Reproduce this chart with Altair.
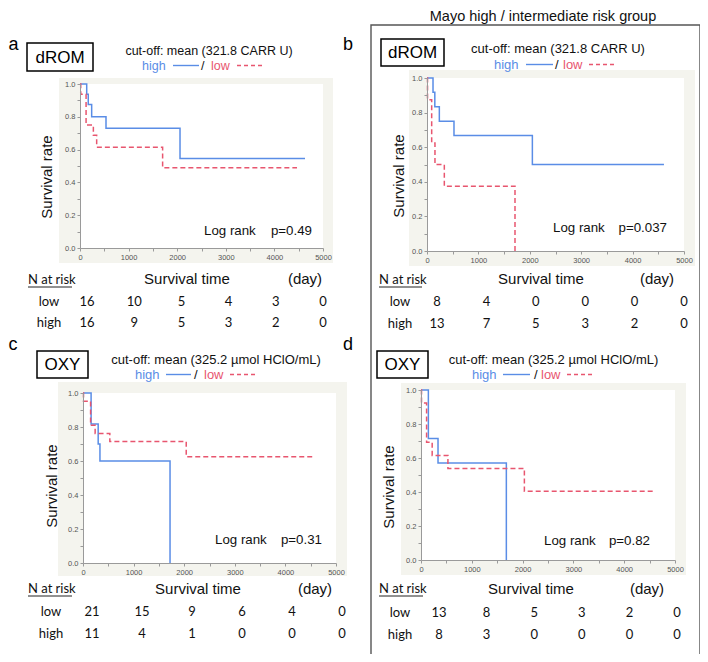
import altair as alt
import pandas as pd

# ------------------------------------------------------------------ data
GROUPS = ["high", "low"]
ROWS = ["low", "high"]
RISK_TIMES = [0, 1000, 2000, 3000, 4000, 5000]

# panel a (dROM, all)
a_high_t = [0, 138, 170, 240, 535, 2058, 4630]
a_high_s = [1.0, 0.9375, 0.875, 0.80, 0.73, 0.545, 0.545]
a_low_t = [0, 15, 125, 275, 343, 1700, 4465]
a_low_s = [1.0, 0.9375, 0.75, 0.6875, 0.615, 0.49, 0.49]
a_risk_low = [16, 10, 5, 4, 3, 0]
a_risk_high = [16, 9, 5, 3, 2, 0]

# panel b (dROM, Mayo high/intermediate)
b_high_t = [0, 117, 152, 240, 525, 2050, 4610]
b_high_s = [1.0, 0.917, 0.834, 0.75, 0.667, 0.5, 0.5]
b_low_t = [0, 10, 91, 155, 337, 1712]
b_low_s = [1.0, 0.875, 0.625, 0.5, 0.375, 0.0]
b_risk_low = [8, 4, 0, 0, 0, 0]
b_risk_high = [13, 7, 5, 3, 2, 0]

# panel c (OXY, all)
c_high_t = [0, 160, 300, 335, 1720]
c_high_s = [1.0, 0.818, 0.70, 0.60, 0.0]
c_low_t = [0, 10, 150, 240, 530, 2040, 4530]
c_low_s = [1.0, 0.952, 0.81, 0.762, 0.714, 0.625, 0.625]
c_risk_low = [21, 15, 9, 6, 4, 0]
c_risk_high = [11, 4, 1, 0, 0, 0]

# panel d (OXY, Mayo high/intermediate)
d_high_t = [0, 145, 335, 1680]
d_high_s = [1.0, 0.714, 0.571, 0.0]
d_low_t = [0, 10, 110, 220, 530, 2035, 4590]
d_low_s = [1.0, 0.923, 0.692, 0.615, 0.538, 0.404, 0.404]
d_risk_low = [13, 8, 5, 3, 2, 0]
d_risk_high = [8, 3, 0, 0, 0, 0]

letters = ["a", "b", "c", "d"]
markers = ["dROM", "dROM", "OXY", "OXY"]
cutoffs = ["cut-off: mean (321.8 CARR U)", "cut-off: mean (321.8 CARR U)",
           "cut-off: mean (325.2 \u00b5mol HClO/mL)", "cut-off: mean (325.2 \u00b5mol HClO/mL)"]
pvalues = ["p=0.49", "p=0.037", "p=0.31", "p=0.82"]
group_title = "Mayo high / intermediate risk group"

# ------------------------------------------------------------------ style / layout
W, H = 692, 646
O = 8  # page margin
SANS = "Liberation Sans"
TFONT = "Lato"
BLUE = "#5a8de6"
RED = "#e8566f"
BEIGE = "#f4f4ee"
AXC = "#9a9a9a"
LABC = "#555555"

LAYOUT = [
    dict(letter=(8.5, 50), box=(27, 43, 93, 71), cut=(209, 51, 12.5),
         leg=dict(y=65.5, high=142, line=(173, 199), slash=201, low=211, dash=(237, 265)),
         beige=(59, 78, 333, 263), x=(80, 323), y=(248, 84), srate=(47, 177),
         logrank=(204, 312, 231), stime=(187, 278.5), day=(305, 278.5),
         nrisk=(28, 72, 280, 287), lab=49, cols=(87, 323), rows=(302, 323)),
    dict(letter=(343, 50), box=(381, 39, 444, 66), cut=(558, 49, 13),
         leg=dict(y=64.5, high=494, line=(526, 553), slash=555, low=563, dash=(589, 617)),
         beige=(409, 70, 695, 266), x=(427, 684), y=(251, 78), srate=(399, 176),
         logrank=(553, 667, 228), stime=(541, 278.5), day=(657, 278.5),
         nrisk=(379, 422, 280, 287), lab=400, cols=(437, 684), rows=(302, 324)),
    dict(letter=(8.5, 350), box=(37, 351, 88, 378), cut=(216, 360, 13),
         leg=dict(y=374.5, high=135, line=(166, 191), slash=194, low=204, dash=(230, 258)),
         beige=(58, 382, 347, 576), x=(83, 336), y=(563, 393), srate=(52, 486),
         logrank=(215, 322, 540), stime=(198, 588.5), day=(315, 588.5),
         nrisk=(28, 72, 589, 596), lab=51, cols=(92, 342), rows=(612, 634)),
    dict(letter=(343, 350), box=(377, 351, 428, 378), cut=(553.5, 360, 13),
         leg=dict(y=374.5, high=472, line=(503, 530), slash=534, low=541, dash=(567, 594)),
         beige=(401, 383, 686, 575), x=(421, 675), y=(560, 390), srate=(389, 487),
         logrank=(544, 650, 541), stime=(531, 588.5), day=(647, 588.5),
         nrisk=(379, 423, 589, 596), lab=400, cols=(439, 677), rows=(613, 635)),
]

KM = [
    (a_high_t, a_high_s, a_low_t, a_low_s, a_risk_low, a_risk_high),
    (b_high_t, b_high_s, b_low_t, b_low_s, b_risk_low, b_risk_high),
    (c_high_t, c_high_s, c_low_t, c_low_s, c_risk_low, c_risk_high),
    (d_high_t, d_high_s, d_low_t, d_low_s, d_risk_low, d_risk_high),
]

ONE = pd.DataFrame({"k": [1]})


def txt(s, x, y, size, color="#111111", align="center", baseline="middle",
        font=SANS, angle=0):
    return alt.Chart(ONE).mark_text(
        text=s, fontSize=size, color=color, align=align, baseline=baseline,
        font=font, angle=angle
    ).encode(x=alt.value(x - O), y=alt.value(y - O))


def rect(x1, y1, x2, y2, fill, stroke=None, sw=0, fill_opacity=1):
    kw = dict(fill=fill, fillOpacity=fill_opacity)
    if stroke:
        kw.update(stroke=stroke, strokeWidth=sw)
    else:
        kw.update(strokeWidth=0)
    return alt.Chart(ONE).mark_rect(**kw).encode(
        x=alt.value(x1 - O), x2=alt.value(x2 - O),
        y=alt.value(y1 - O), y2=alt.value(y2 - O))


def rule(x1, x2, y, color, sw=1.5, dash=None):
    kw = dict(color=color, strokeWidth=sw)
    if dash:
        kw["strokeDash"] = dash
    return alt.Chart(ONE).mark_rule(**kw).encode(
        x=alt.value(x1 - O), x2=alt.value(x2 - O), y=alt.value(y - O))


back_layers = []
front_layers = []

# group title and outer box
front_layers.append(txt(group_title, 543, 21, 14.5, baseline="alphabetic"))
front_layers.append(rect(371, 25, 700, 659, "#ffffff", stroke="#555555", sw=1.4,
                         fill_opacity=0))

for i, L in enumerate(LAYOUT):
    ht, hs, lt, ls, rlow, rhigh = KM[i]
    # backgrounds
    bx1, by1, bx2, by2 = L["beige"]
    back_layers.append(rect(bx1, by1, bx2, by2, BEIGE))
    back_layers.append(rect(L["x"][0], L["y"][1], L["x"][1], L["y"][0], "#ffffff"))

    # letter
    front_layers.append(txt(letters[i], L["letter"][0], L["letter"][1], 18,
                            color="#000000", align="left", baseline="alphabetic"))
    # marker box
    x1, y1, x2, y2 = L["box"]
    front_layers.append(rect(x1, y1, x2, y2, "#ffffff", stroke="#000000", sw=1.5))
    front_layers.append(txt(markers[i], (x1 + x2) / 2, (y1 + y2) / 2 + 0.5, 17,
                            color="#000000"))
    # cut-off
    cx, cy, cs = L["cut"]
    front_layers.append(txt(cutoffs[i], cx, cy, cs))
    # legend line
    lg = L["leg"]
    front_layers.append(txt("high", lg["high"], lg["y"], cs, color=BLUE, align="left"))
    front_layers.append(rule(lg["line"][0], lg["line"][1], lg["y"], BLUE, 1.4))
    front_layers.append(txt("/", lg["slash"], lg["y"], cs, align="left"))
    front_layers.append(txt("low", lg["low"], lg["y"], cs, color=RED, align="left"))
    front_layers.append(rule(lg["dash"][0], lg["dash"][1], lg["y"], RED, 1.4, [4, 3]))
    # y title
    front_layers.append(txt("Survival rate", L["srate"][0], L["srate"][1], 15,
                            angle=270))
    # log rank
    lx1, lx2, ly = L["logrank"]
    front_layers.append(txt("Log rank", lx1, ly, 13.3, align="left"))
    front_layers.append(txt(pvalues[i], lx2, ly, 13.3, align="right"))
    # x title
    front_layers.append(txt("Survival time", L["stime"][0], L["stime"][1], 15))
    front_layers.append(txt("(day)", L["day"][0], L["day"][1], 15))
    # N at risk
    nx1, nx2, ny, nu = L["nrisk"]
    front_layers.append(txt("N at risk", nx1, ny, 13, align="left", font=TFONT))
    front_layers.append(rule(nx1, nx2, nu, "#222222", 1))

    # KM curves
    df = pd.DataFrame({
        "t": ht + lt,
        "s": hs + ls,
        "g": ["high"] * len(ht) + ["low"] * len(lt),
    })
    y0, y1p = L["y"]
    xa = alt.Axis(
        orient="bottom", offset=(y0 - O) - H, values=list(range(0, 5001, 500)),
        labelExpr="datum.value % 1000 == 0 ? format(datum.value, 'd') : ''",
        title=None, grid=False, domainColor=AXC, tickColor=AXC, tickSize=3,
        labelFontSize=7.5, labelColor=LABC, labelFont=SANS, labelPadding=2,
        labelFlush=False, labelOverlap=False, zindex=1)
    ya = alt.Axis(
        orient="left", offset=-(L["x"][0] - O),
        values=[round(v / 10, 1) for v in range(11)],
        labelExpr="round(datum.value * 10) % 2 == 0 ? format(datum.value, '.1f') : ''",
        title=None, grid=False, domainColor=AXC, tickColor=AXC, tickSize=3,
        labelFontSize=7.5, labelColor=LABC, labelFont=SANS, labelPadding=2,
        labelFlush=False, labelOverlap=False, zindex=1)
    km = alt.Chart(df).mark_line(interpolate="step-after", strokeWidth=1.5).encode(
        x=alt.X("t:Q", scale=alt.Scale(domain=[0, 5000], range=[L["x"][0] - O, L["x"][1] - O],
                                        nice=False, zero=False), axis=xa),
        y=alt.Y("s:Q", scale=alt.Scale(domain=[0, 1], range=[y0 - O, y1p - O], nice=False),
                axis=ya),
        color=alt.Color("g:N", scale=alt.Scale(domain=GROUPS, range=[BLUE, RED]), legend=None),
        strokeDash=alt.StrokeDash("g:N", scale=alt.Scale(domain=GROUPS, range=[[1, 0], [5, 3]]),
                                  legend=None),
    )
    front_layers.append(km)

    # risk table
    tdf = pd.DataFrame({
        "time": RISK_TIMES * 2,
        "row": ["low"] * 6 + ["high"] * 6,
        "n": rlow + rhigh,
    })
    rowscale = alt.Scale(type="point", domain=ROWS,
                         range=[L["rows"][0] - O, L["rows"][1] - O], padding=0)
    table = alt.Chart(tdf).mark_text(font=TFONT, fontSize=13, color="#111111",
                                     baseline="middle", align="center").encode(
        x=alt.X("time:Q", scale=alt.Scale(domain=[0, 5000],
                                          range=[L["cols"][0] - O, L["cols"][1] - O],
                                          nice=False, zero=False), axis=None),
        y=alt.Y("row:N", scale=rowscale, axis=None),
        text="n:Q",
    )
    front_layers.append(table)
    ldf = pd.DataFrame({"row": ROWS})
    rowlab = alt.Chart(ldf).mark_text(font=TFONT, fontSize=13, color="#111111",
                                      baseline="middle", align="center").encode(
        x=alt.value(L["lab"] - O),
        y=alt.Y("row:N", scale=rowscale, axis=None),
        text="row:N",
    )
    front_layers.append(rowlab)

chart = alt.layer(*(back_layers + front_layers)).properties(
    width=W, height=H, padding=0,
    autosize=alt.AutoSizeParams(type="none"),
    background="#ffffff",
).resolve_scale(x="independent", y="independent").configure_view(stroke=None)

chart.save("out.html", embed_options={"renderer": "svg", "actions": False})
